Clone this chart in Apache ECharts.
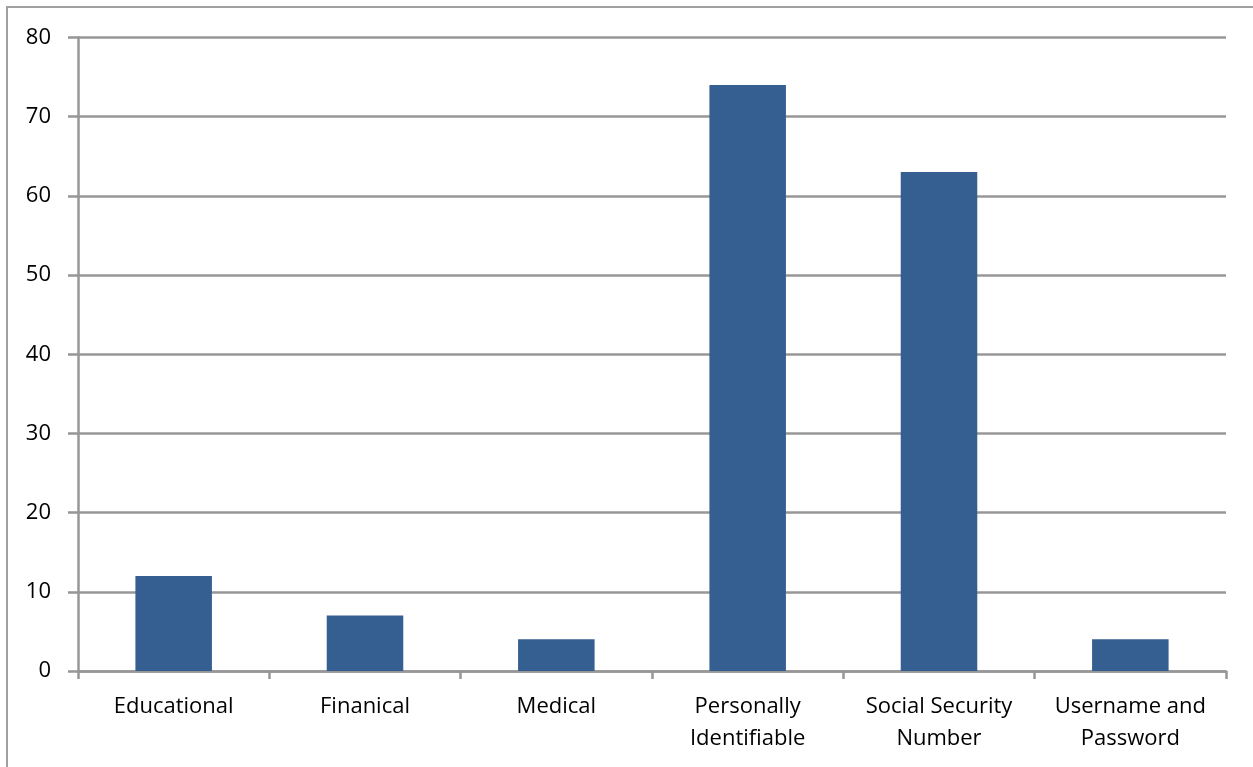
<!DOCTYPE html>
<html>
<head>
<meta charset="utf-8">
<script src="https://cdn.jsdelivr.net/npm/echarts@6/dist/echarts.min.js"></script>
<style>html,body{margin:0;padding:0;background:#fff;}#c{width:1253px;height:767px;}</style>
</head>
<body>
<div id="c"></div>
<script>
const categories = ['Educational', 'Finanical', 'Medical', 'Personally\nIdentifiable', 'Social Security\nNumber', 'Username and\nPassword'];
const values = [12, 7, 4, 74, 63, 4];
const yTicks = [0, 10, 20, 30, 40, 50, 60, 70, 80];

const chart = echarts.init(document.getElementById('c'), null, {renderer: 'canvas'});
const gridColor = '#979797';
chart.setOption({
  animation: false,
  backgroundColor: '#ffffff',
  graphic: [{
    type: 'rect', silent: true,
    shape: {x: 7, y: 7, width: 1400, height: 1000},
    style: {fill: 'none', stroke: '#a0a0a0', lineWidth: 2}
  }],
  grid: {left: 78, right: 27, top: 37.5, bottom: 96, containLabel: false},
  xAxis: {
    type: 'category',
    data: categories,
    axisLine: {show: true, lineStyle: {color: gridColor, width: 2.5}},
    axisTick: {show: true, alignWithLabel: false, interval: 0, length: 8, lineStyle: {color: gridColor, width: 2.5}},
    axisLabel: {interval: 0, margin: 20, color: '#000', fontFamily: 'Open Sans', fontSize: 22, lineHeight: 32}
  },
  yAxis: {
    type: 'value',
    min: yTicks[0], max: yTicks[yTicks.length - 1], interval: 10,
    axisLine: {show: true, lineStyle: {color: gridColor, width: 2.5}},
    axisTick: {show: true, length: 10, lineStyle: {color: gridColor, width: 2.5}},
    axisLabel: {margin: 27, color: '#000', fontFamily: 'Open Sans', fontSize: 22},
    splitLine: {show: true, lineStyle: {color: gridColor, width: 2.5}}
  },
  series: [{
    type: 'bar',
    data: values,
    barCategoryGap: '60%',
    itemStyle: {color: '#365F91'}
  }]
});
</script>
</body>
</html>
